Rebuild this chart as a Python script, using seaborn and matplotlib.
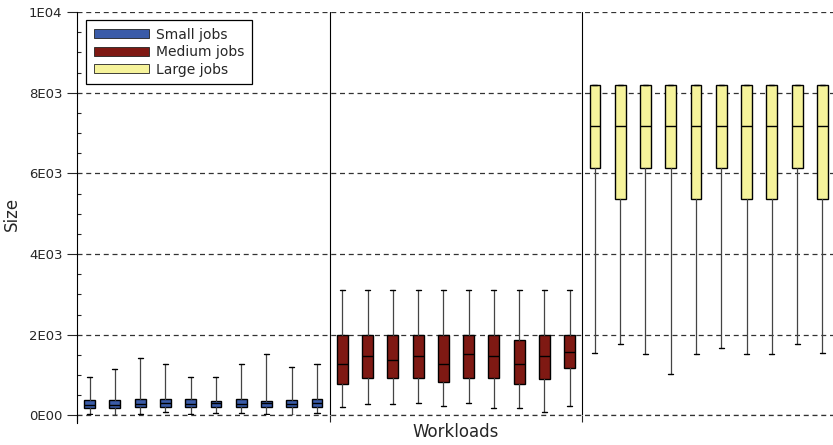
import numpy as np
import matplotlib
matplotlib.use("Agg")
import matplotlib.pyplot as plt
import matplotlib.patches as mpatches
from matplotlib.ticker import FuncFormatter, MultipleLocator
import seaborn as sns

# box stats (10 workloads per job class)
small_whislo = [40, 10, 40, 85, 30, 60, 60, 40, 10, 50]
small_q1 = [180, 175, 200, 200, 200, 200, 200, 200, 200, 200]
small_med = [265, 270, 290, 320, 290, 300, 290, 300, 290, 320]
small_q3 = [390, 390, 415, 415, 415, 370, 415, 370, 390, 415]
small_whishi = [950, 1140, 1430, 1265, 950, 950, 1265, 1530, 1190, 1265]

medium_whislo = [205, 280, 280, 305, 225, 305, 180, 180, 85, 230]
medium_q1 = [785, 940, 940, 940, 830, 940, 940, 785, 900, 1175]
medium_med = [1265, 1480, 1380, 1480, 1265, 1530, 1480, 1265, 1480, 1580]
medium_q3 = [2000, 2000, 2000, 2000, 2000, 2000, 2000, 1860, 2000, 2000]
medium_whishi = [3100, 3100, 3100, 3100, 3100, 3100, 3100, 3100, 3100, 3100]

large_whislo = [1555, 1780, 1520, 1020, 1520, 1670, 1520, 1520, 1780, 1555]
large_q1 = [6144, 5376, 6144, 6144, 5376, 6144, 5376, 5376, 6144, 5376]
large_med = [7168, 7168, 7168, 7168, 7168, 7168, 7168, 7168, 7168, 7168]
large_q3 = [8192, 8192, 8192, 8192, 8192, 8192, 8192, 8192, 8192, 8192]
large_whishi = [8192, 8192, 8192, 8192, 8192, 8192, 8192, 8192, 8192, 8192]

labels = ["Small jobs", "Medium jobs", "Large jobs"]
colors = ["#3a5ba8", "#7f1913", "#f6f39b"]

groups = [
    (small_whislo, small_q1, small_med, small_q3, small_whishi),
    (medium_whislo, medium_q1, medium_med, medium_q3, medium_whishi),
    (large_whislo, large_q1, large_med, large_q3, large_whishi),
]

sns.set_style("ticks")
plt.rcParams['font.family'] = ['DejaVu Sans']

fig = plt.figure(figsize=(8.33, 4.45), dpi=100)
ax = fig.add_axes([0.0924, 0.0663, 0.91, 0.9067])

n = 10
for g, (lo, q1, med, q3, hi) in enumerate(groups):
    stats = []
    for i in range(n):
        stats.append({"whislo": lo[i], "q1": q1[i], "med": med[i],
                      "q3": q3[i], "whishi": hi[i], "fliers": []})
    pos = np.arange(n) + g * n
    ax.bxp(stats, positions=pos, widths=0.43, capwidths=0.2,
           patch_artist=True, showfliers=False,
           boxprops=dict(facecolor=colors[g], edgecolor="black", linewidth=1.0),
           medianprops=dict(color="black", linewidth=1.0),
           whiskerprops=dict(color="#444444", linewidth=0.9),
           capprops=dict(color="black", linewidth=1.0),
           manage_ticks=False)

ax.set_xlim(-0.5, 3 * n - 0.5)
ax.set_ylim(0, 10000)

# separators between job classes
for xb in [n - 0.5, 2 * n - 0.5]:
    ax.axvline(xb, color="black", linewidth=0.8)

ax.set_xticks([-0.5, n - 0.5, 2 * n - 0.5])
ax.set_xticklabels([])
ax.tick_params(axis="x", direction="out", length=5, width=0.8)

def sci(v, pos):
    if v < 0:
        return ""
    if v == 0:
        return "0E00"
    e = int(np.floor(np.log10(v) + 1e-9))
    return "%dE%02d" % (round(v / 10 ** e), e)

ax.yaxis.set_major_locator(MultipleLocator(2000))
ax.yaxis.set_minor_locator(MultipleLocator(500))
ax.yaxis.set_major_formatter(FuncFormatter(sci))
ax.tick_params(axis="y", which="major", direction="out", length=7, width=0.8, labelsize=9.5)
ax.tick_params(axis="y", which="minor", direction="in", length=3, width=0.8)

ax.yaxis.grid(True, which="major", linestyle=(0, (4, 3)), color="#333333", linewidth=0.9)
ax.axhline(0, linestyle=(0, (4, 3)), color="#333333", linewidth=0.9, clip_on=False, zorder=0.5)
ax.set_axisbelow(True)

sns.despine(ax=ax, top=True, right=True, bottom=True)
ax.spines["left"].set_linewidth(0.8)
ax.spines["left"].set_bounds(-190, 10000)
ax.spines["left"].set_color("black")

ax.set_xlabel("Workloads", fontsize=12, labelpad=-3)
ax.set_ylabel("Size", fontsize=12, labelpad=6)

handles = [mpatches.Patch(facecolor=c, edgecolor="#222222", linewidth=0.6) for c in colors]
leg = ax.legend(handles, labels, loc="upper left", bbox_to_anchor=(0.012, 0.98),
                borderaxespad=0, fontsize=10, handlelength=4.0, handleheight=0.6,
                handletextpad=0.5, labelspacing=0.25, fancybox=False, framealpha=1,
                edgecolor="black", borderpad=0.55)
leg.get_frame().set_linewidth(0.9)

fig.savefig("out.png", dpi=100)
